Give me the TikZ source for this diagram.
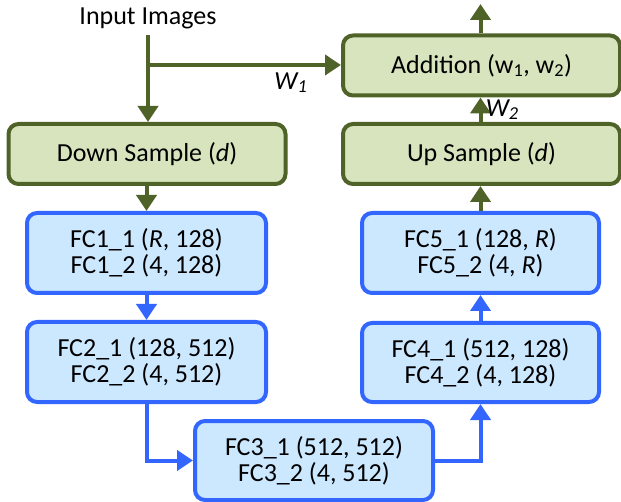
\documentclass[tikz,border=0pt]{standalone}
\usepackage{fontspec}
\setmainfont{Carlito}
\usetikzlibrary{arrows.meta}
\definecolor{gborder}{HTML}{4F6228}
\definecolor{gfill}{HTML}{D7E4BD}
\definecolor{bborder}{HTML}{3366FF}
\definecolor{bfill}{HTML}{CCE8FF}
\begin{document}
\begin{tikzpicture}[x=1pt,y=-1pt,
  gbox/.style={draw=gborder,fill=gfill,line width=4pt,rounded corners=10pt,inner sep=0pt,font=\fontsize{26}{28}\selectfont},
  bbox/.style={draw=bborder,fill=bfill,line width=4pt,rounded corners=10pt,inner sep=0pt,align=center,font=\fontsize{26}{26}\selectfont},
  garr/.style={draw=gborder,line width=4pt,-{Triangle[width=20pt,length=16pt]}},
  barr/.style={draw=bborder,line width=4pt,-{Triangle[width=20pt,length=16pt]}},
  lbl/.style={font=\fontsize{26}{28}\selectfont}]
\useasboundingbox (0,0) rectangle (621,502);
\node[lbl] (in) at (148,18) {Input Images};
\node[gbox,minimum width=277pt,minimum height=60pt] (down) at (147,154) {Down Sample (\textit{d})};
\node[gbox,minimum width=277pt,minimum height=60pt] (add) at (481.5,65.5) {Addition (w\textsubscript{1}, w\textsubscript{2})};
\node[gbox,minimum width=277pt,minimum height=60pt] (up) at (481.5,154) {Up Sample (\textit{d})};
\node[bbox,minimum width=239pt,minimum height=80pt] (fc1) at (146.5,253) {FC1\_1 (\textit{R}, 128)\\FC1\_2 (4, 128)};
\node[bbox,minimum width=239pt,minimum height=80pt] (fc2) at (146.5,362) {FC2\_1 (128, 512)\\FC2\_2 (4, 512)};
\node[bbox,minimum width=238pt,minimum height=79pt] (fc3) at (314,460.5) {FC3\_1 (512, 512)\\FC3\_2 (4, 512)};
\node[bbox,minimum width=237pt,minimum height=79pt] (fc4) at (480.5,362.5) {FC4\_1 (512, 128)\\FC4\_2 (4, 128)};
\node[bbox,minimum width=237pt,minimum height=80pt] (fc5) at (480.5,253) {FC5\_1 (128, \textit{R})\\FC5\_2 (4, \textit{R})};
\coordinate (br) at (148,65);
\coordinate (top) at (481.5,4);
\draw[garr] (148,35) -- (down.north -| br);
\draw[garr] (br) -- (add.west |- br) node[pos=0.74,below=2pt,lbl]{\textit{W\textsubscript{1}}};
\draw[garr] (down.south -| fc1.north) -- (fc1.north);
\draw[barr] (fc1) -- (fc2);
\draw[barr] (fc2.south) |- (fc3.west);
\draw[barr] (fc3.east) -| (fc4.south -| fc5.south);
\draw[barr] (fc4.north -| fc5.south) -- (fc5.south);
\draw[garr] (fc5.north) -- (up.south -| fc5.north);
\draw[garr] (up.north -| fc5.north) -- (add.south -| fc5.north) node[midway,right=0pt,lbl]{\textit{W\textsubscript{2}}};
\draw[garr] (add.north -| fc5.north) -- (top -| fc5.north);
\end{tikzpicture}
\end{document}
